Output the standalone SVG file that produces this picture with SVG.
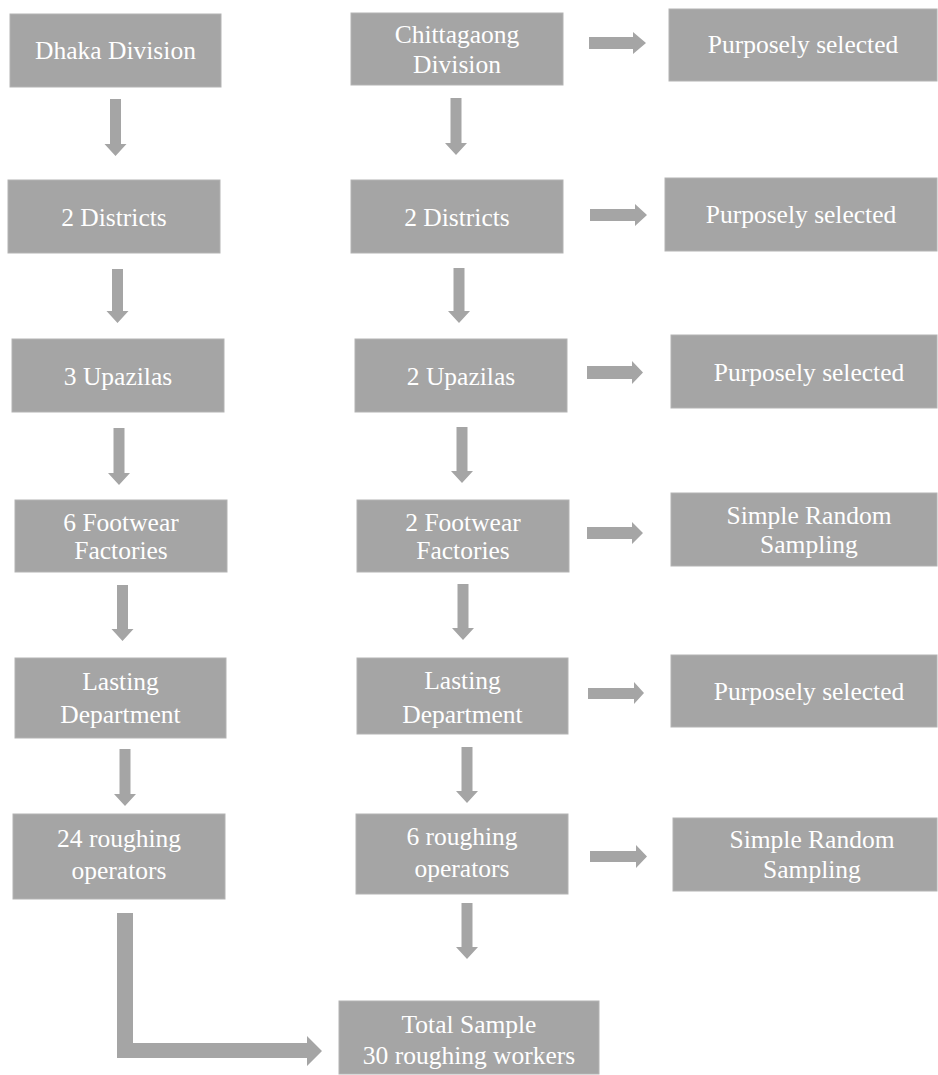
<svg xmlns="http://www.w3.org/2000/svg" width="938" height="1075" viewBox="0 0 938 1075">
<style>
.box{fill:#a5a5a5;stroke:#b3b3b3;stroke-width:1}
.t{font-family:"Liberation Serif","Times New Roman",serif;font-size:25.5px;fill:#ffffff;text-anchor:middle}
.arr{fill:#a5a5a5}
</style>
<rect width="938" height="1075" fill="#ffffff"/>
<g id="dhaka"><rect class="box" x="10" y="14" width="211" height="73"/><text class="t" x="115.5" y="59">Dhaka Division</text></g>
<g id="dhaka-districts"><rect class="box" x="8" y="180" width="212" height="73"/><text class="t" x="114" y="226">2 Districts</text></g>
<g id="dhaka-upazilas"><rect class="box" x="12" y="339" width="212" height="73"/><text class="t" x="118" y="385">3 Upazilas</text></g>
<g id="dhaka-factories"><rect class="box" x="15" y="500" width="212" height="72"/><text class="t" x="121" y="531">6 Footwear</text><text class="t" x="121" y="559">Factories</text></g>
<g id="dhaka-lasting"><rect class="box" x="15" y="658" width="211" height="80"/><text class="t" x="120.5" y="690">Lasting</text><text class="t" x="120.5" y="723">Department</text></g>
<g id="dhaka-operators"><rect class="box" x="13" y="814" width="212" height="85"/><text class="t" x="119" y="847">24 roughing</text><text class="t" x="119" y="879">operators</text></g>
<g id="ctg"><rect class="box" x="351" y="13" width="212" height="72"/><text class="t" x="457" y="43">Chittagaong</text><text class="t" x="457" y="73">Division</text></g>
<g id="ctg-districts"><rect class="box" x="351" y="180" width="212" height="73"/><text class="t" x="457" y="226">2 Districts</text></g>
<g id="ctg-upazilas"><rect class="box" x="355" y="339" width="212" height="73"/><text class="t" x="461" y="385">2 Upazilas</text></g>
<g id="ctg-factories"><rect class="box" x="357" y="500" width="212" height="72"/><text class="t" x="463" y="531">2 Footwear</text><text class="t" x="463" y="559">Factories</text></g>
<g id="ctg-lasting"><rect class="box" x="357" y="658" width="211" height="76"/><text class="t" x="462.5" y="689">Lasting</text><text class="t" x="462.5" y="723">Department</text></g>
<g id="ctg-operators"><rect class="box" x="356" y="814" width="212" height="80"/><text class="t" x="462" y="845">6 roughing</text><text class="t" x="462" y="877">operators</text></g>
<g id="m1"><rect class="box" x="669" y="9" width="268" height="72"/><text class="t" x="803" y="53">Purposely selected</text></g>
<g id="m2"><rect class="box" x="665" y="178" width="272" height="73"/><text class="t" x="801" y="223">Purposely selected</text></g>
<g id="m3"><rect class="box" x="671" y="335" width="266" height="73"/><text class="t" x="809" y="381">Purposely selected</text></g>
<g id="m4"><rect class="box" x="671" y="493" width="266" height="73"/><text class="t" x="809" y="524">Simple Random</text><text class="t" x="809" y="553">Sampling</text></g>
<g id="m5"><rect class="box" x="671" y="655" width="266" height="72"/><text class="t" x="809" y="700">Purposely selected</text></g>
<g id="m6"><rect class="box" x="673" y="818" width="264" height="73"/><text class="t" x="812" y="848">Simple Random</text><text class="t" x="812" y="878">Sampling</text></g>
<g id="total"><rect class="box" x="339" y="1001" width="260" height="73"/><text class="t" x="469" y="1033">Total Sample</text><text class="t" x="469" y="1064">30 roughing workers</text></g>
<g id="connectors" class="arr">
<polygon points="110,99 121,99 121,144 126.5,144 115.5,156 104.5,144 110,144"/>
<polygon points="112,269 123,269 123,311 128.5,311 117.5,323 106.5,311 112,311"/>
<polygon points="113.5,428 124.5,428 124.5,473 130,473 119,485 108,473 113.5,473"/>
<polygon points="117,585 128,585 128,629 133.5,629 122.5,641 111.5,629 117,629"/>
<polygon points="119.5,749 130.5,749 130.5,794 136,794 125,806 114,794 119.5,794"/>
<polygon points="450.5,98 461.5,98 461.5,143 467,143 456,155 445,143 450.5,143"/>
<polygon points="453.5,268 464.5,268 464.5,311 470,311 459,323 448,311 453.5,311"/>
<polygon points="456.5,427 467.5,427 467.5,471 473,471 462,483 451,471 456.5,471"/>
<polygon points="457.5,584 468.5,584 468.5,628 474,628 463,640 452,628 457.5,628"/>
<polygon points="461.5,747 472.5,747 472.5,791 478,791 467,803 456,791 461.5,791"/>
<polygon points="461.5,903 472.5,903 472.5,947 478,947 467,959 456,947 461.5,947"/>
<polygon points="589,37 633,37 633,32 646,43 633,54 633,49 589,49"/>
<polygon points="590,209 635,209 635,204 647,215 635,226 635,221 590,221"/>
<polygon points="587,366 632,366 632,361 643,372.5 632,384 632,379 587,379"/>
<polygon points="587,527 632,527 632,522 643,533 632,544 632,539 587,539"/>
<polygon points="588,688 634,688 634,682 644,693 634,704 634,699 588,699"/>
<polygon points="590,851 636,851 636,845 647,856.5 636,868 636,862 590,862"/>
<polygon points="117,913 133,913 133,1043 307,1043 307,1036 322,1051 307,1066 307,1058 117,1058"/>
</g>
</svg>
